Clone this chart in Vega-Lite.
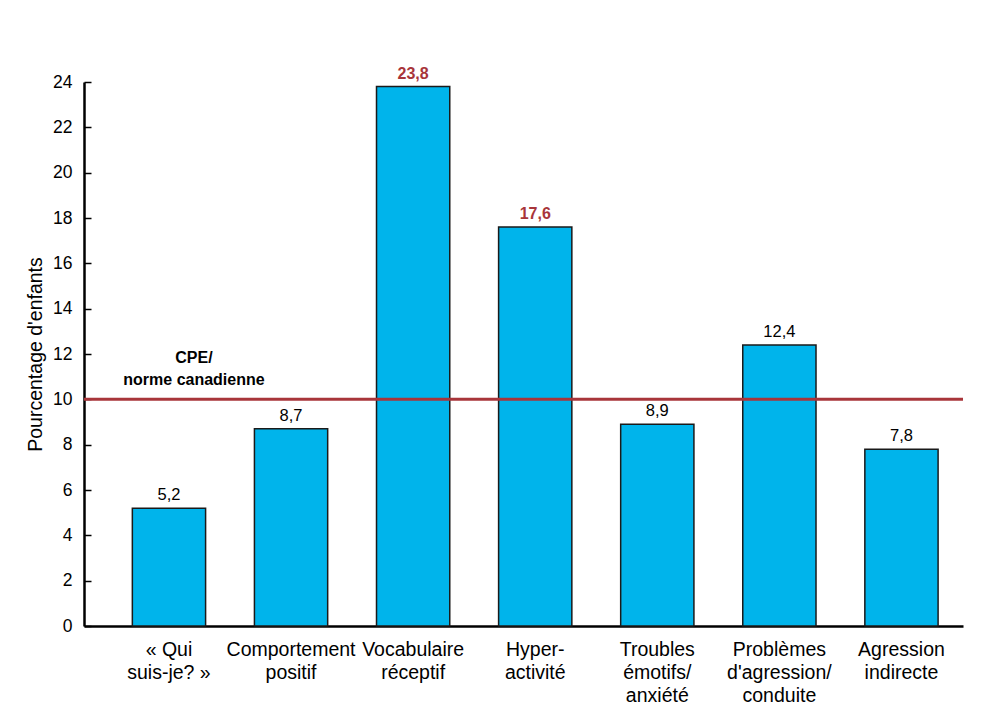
{
  "$schema": "https://vega.github.io/schema/vega-lite/v6.json",
  "width": 879,
  "height": 544,
  "autosize": "none",
  "padding": {"left": 84, "top": 82, "right": 20, "bottom": 87},
  "background": "white",
  "config": {
    "view": {"stroke": null},
    "font": "Liberation Sans",
    "locale": {"number": {"decimal": ",", "thousands": " ", "grouping": [3], "currency": ["", " $"]}}
  },
  "data": {
    "values": [
      {"cat": "« Qui|suis-je? »", "value": 5.2},
      {"cat": "Comportement|positif", "value": 8.7},
      {"cat": "Vocabulaire|réceptif", "value": 23.8},
      {"cat": "Hyper-|activité", "value": 17.6},
      {"cat": "Troubles|émotifs/|anxiété", "value": 8.9},
      {"cat": "Problèmes|d'agression/|conduite", "value": 12.4},
      {"cat": "Agression|indirecte", "value": 7.8}
    ]
  },
  "encoding": {
    "x": {
      "field": "cat", "type": "nominal", "sort": null,
      "scale": {"paddingInner": 0.4, "paddingOuter": 0.3, "align": 0.66},
      "axis": {
        "title": null, "labelAngle": 0, "ticks": false,
        "labelExpr": "split(datum.label, '|')",
        "labelFontSize": 19.5, "labelColor": "black", "labelLineHeight": 23,
        "labelPadding": 14, "labelBaseline": "top",
        "domainColor": "black", "domainWidth": 2.5
      }
    },
    "y": {
      "field": "value", "type": "quantitative",
      "scale": {"domain": [0, 24], "nice": false},
      "axis": {
        "title": "Pourcentage d'enfants", "titleFontSize": 19.5, "titleFontWeight": "normal",
        "titleColor": "black", "titlePadding": 7,
        "values": [0, 2, 4, 6, 8, 10, 12, 14, 16, 18, 20, 22, 24],
        "format": "d", "grid": false,
        "tickSize": -7, "tickColor": "black", "tickWidth": 1.5,
        "labelFontSize": 17.5, "labelColor": "black", "labelPadding": 19,
        "domainColor": "black", "domainWidth": 2.5
      }
    }
  },
  "layer": [
    {
      "mark": {"type": "bar", "fill": "#00B4EB", "stroke": "#1a1a1a", "strokeWidth": 1.5}
    },
    {
      "transform": [{"filter": "datum.value <= 15"}],
      "mark": {"type": "text", "baseline": "bottom", "dy": -5, "fontSize": 16.5, "color": "black"},
      "encoding": {
        "text": {"field": "value", "type": "quantitative", "format": ".1f"}
      }
    },
    {
      "transform": [{"filter": "datum.value > 15"}],
      "mark": {"type": "text", "baseline": "bottom", "dy": -5, "fontSize": 16, "fontWeight": "bold", "color": "#A8353A"},
      "encoding": {
        "text": {"field": "value", "type": "quantitative", "format": ".1f"}
      }
    },
    {
      "data": {"values": [{"ref": 10}]},
      "mark": {"type": "rule", "color": "#A8353A", "strokeWidth": 3},
      "encoding": {"y": {"field": "ref", "type": "quantitative"}, "x": null}
    },
    {
      "data": {"values": [{"ref": 10, "cat": "« Qui|suis-je? »", "label": "CPE/|norme canadienne"}]},
      "mark": {"type": "text", "lineBreak": "|", "lineHeight": 22, "baseline": "alphabetic", "fontWeight": "bold", "fontSize": 16, "dx": 25, "dy": -36, "color": "black"},
      "encoding": {
        "y": {"field": "ref", "type": "quantitative"},
        "text": {"field": "label"}
      }
    }
  ]
}
